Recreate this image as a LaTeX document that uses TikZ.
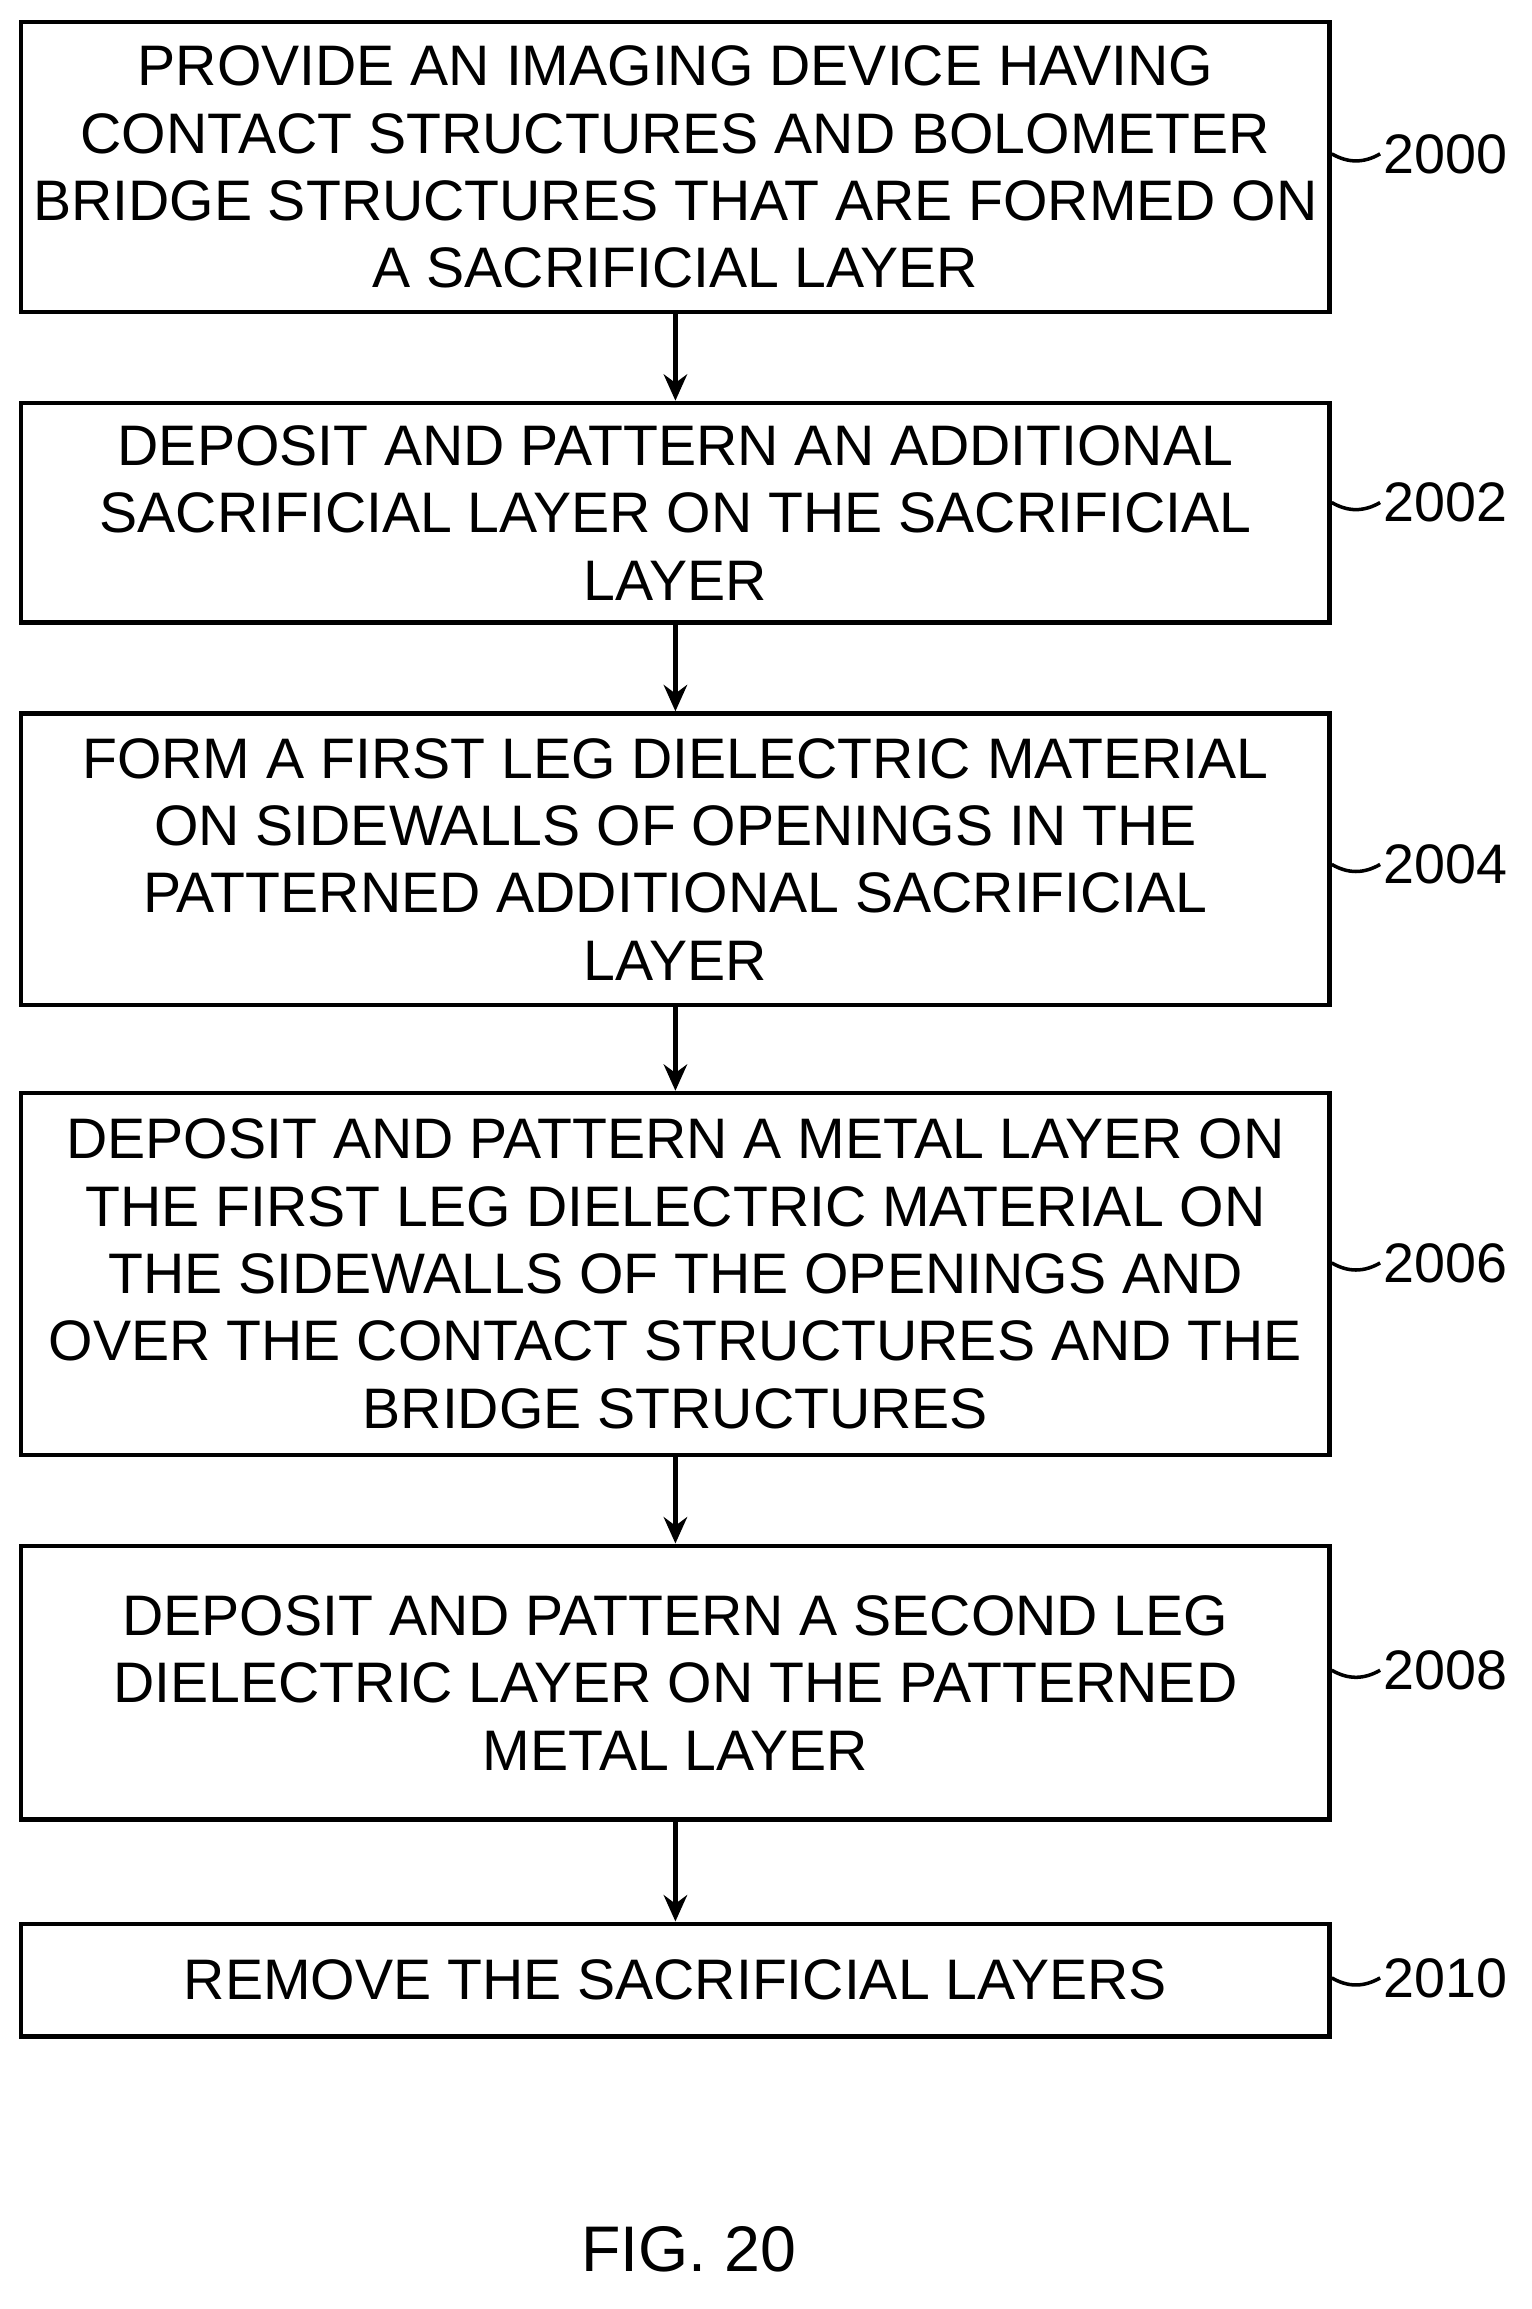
\documentclass[tikz,border=0pt]{standalone}
\usepackage{fontspec}
\setmainfont{Liberation Sans}
\usetikzlibrary{arrows.meta}
\tikzset{paso/.style={rectangle,draw,black,line width=1.5pt,minimum width=446.5pt,align=center,inner sep=0pt,font=\fontsize{19.5}{23}\selectfont},
  etiqueta/.style={font=\fontsize{19}{23}\selectfont,anchor=west,inner sep=1pt},
  flecha/.style={-{Stealth[length=9pt,width=8pt]},line width=1.5pt}}
\begin{document}
\begin{tikzpicture}[x=0.5pt,y=-0.5pt]
		\useasboundingbox (0,0) rectangle (1045,1576);

		\node (p0) at (461,114) [paso,minimum height=99pt] {PROVIDE AN IMAGING DEVICE HAVING\\CONTACT STRUCTURES AND BOLOMETER\\BRIDGE STRUCTURES THAT ARE FORMED ON\\A SACRIFICIAL LAYER};
		\node (p1) at (461,350) [paso,minimum height=75pt] {DEPOSIT AND PATTERN AN ADDITIONAL\\SACRIFICIAL LAYER ON THE SACRIFICIAL\\LAYER};
		\node (p2) at (461,586.5) [paso,minimum height=99.5pt] {FORM A FIRST LEG DIELECTRIC MATERIAL\\ON SIDEWALLS OF OPENINGS IN THE\\PATTERNED ADDITIONAL SACRIFICIAL\\LAYER};
		\node (p3) at (461,869.5) [paso,minimum height=123.5pt] {DEPOSIT AND PATTERN A METAL LAYER ON\\THE FIRST LEG DIELECTRIC MATERIAL ON\\THE SIDEWALLS OF THE OPENINGS AND\\OVER THE CONTACT STRUCTURES AND THE\\BRIDGE STRUCTURES};
		\node (p4) at (461,1148.5) [paso,minimum height=93.5pt] {DEPOSIT AND PATTERN A SECOND LEG\\DIELECTRIC LAYER ON THE PATTERNED\\METAL LAYER};
		\node (p5) at (461,1351.5) [paso,minimum height=38.5pt] {REMOVE THE SACRIFICIAL LAYERS};

		\node (l0) at (942,105) [etiqueta] {2000};
		\node (l1) at (942,343) [etiqueta] {2002};
		\node (l2) at (942,590) [etiqueta] {2004};
		\node (l3) at (942,862) [etiqueta] {2006};
		\node (l4) at (942,1140) [etiqueta] {2008};
		\node (l5) at (942,1350) [etiqueta] {2010};

		\foreach \i in {0,...,5}
			\draw[line width=1.2pt] (p\i.east |- l\i.west) to[out=-30,in=210] (l\i.west);

		\draw[flecha] (p0) -- (p1);
		\draw[flecha] (p1) -- (p2);
		\draw[flecha] (p2) -- (p3);
		\draw[flecha] (p3) -- (p4);
		\draw[flecha] (p4) -- (p5);

		\node (fig) at (470,1535) [font=\fontsize{22}{26}\selectfont] {FIG. 20};
	\end{tikzpicture}
\end{document}
